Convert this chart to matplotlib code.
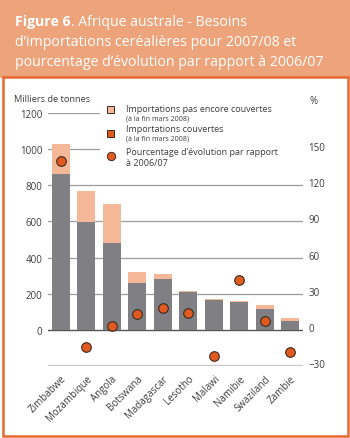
import matplotlib.pyplot as plt
import matplotlib.transforms as mtransforms
from matplotlib.patches import Rectangle
from matplotlib.lines import Line2D
import numpy as np

plt.rcParams['font.family'] = ['Open Sans', 'DejaVu Sans']

# donnees
pays = ["Zimbabwe", "Mozambique", "Angola", "Botswana", "Madagascar",
        "Lesotho", "Malawi", "Namibie", "Swaziland", "Zambie"]
total = [1030, 768, 694, 320, 307, 217, 172, 161, 135, 67]
couvertes = [860, 596, 478, 257, 283, 207, 165, 154, 117, 50]
evolution = [140, -14, 3, 13, 18, 14, -22, 41, 7, -18]

gauche_ticks = [0, 200, 400, 600, 800, 1000, 1200]
droite_ticks = [-30, 0, 30, 60, 90, 120, 150]

pas_couvertes = np.array(total) - np.array(couvertes)

gris = '#808084'
peche = '#f4b898'
orange = '#e15a1f'
texte = '#3c3c3c'

W, H = 350, 439
fig = plt.figure(figsize=(W / 100, H / 100), dpi=100)

# bandeau + cadre
fig.patches.append(Rectangle((0, 1 - 79 / H), 1, 79 / H, transform=fig.transFigure,
                             facecolor='#eda47b', edgecolor='none', zorder=0))
fig.patches.append(Rectangle((2.5 / W, 2.5 / H), (W - 5) / W, (H - 80) / H,
                             transform=fig.transFigure, facecolor='white',
                             edgecolor='#e8692f', linewidth=1.8, zorder=0.5))

t1 = fig.text(15 / W, 1 - 22 / H, "Figure 6", color='white', fontsize=10.2,
              fontweight='bold', va='center')
r = fig.canvas.get_renderer()
bb = t1.get_window_extent(renderer=r)
fig.text(bb.x1 / W, 1 - 22 / H, ". Afrique australe - Besoins",
         color='white', fontsize=10.2, va='center')
fig.text(15 / W, 1 - 42 / H, "d\u2019importations cer\u00e9ali\u00e8res pour 2007/08 et",
         color='white', fontsize=10.2, va='center')
fig.text(15 / W, 1 - 62 / H, "pourcentage d\u2019\u00e9volution par rapport \u00e0 2006/07",
         color='white', fontsize=10.2, va='center')

ax = fig.add_axes([48 / W, 1 - 367 / H, (303 - 48) / W, (367 - 114) / H])
ax.set_zorder(2)
ax.patch.set_visible(False)
x = np.arange(len(pays))

ax.bar(x, couvertes, width=0.72, color=gris, zorder=2)
ax.bar(x, pas_couvertes, width=0.72, bottom=couvertes, color=peche, zorder=2)

ax.set_xlim(-0.5, 9.5)
ax.set_ylim(-200, 1200)
ax.set_yticks(gauche_ticks)
for t in gauche_ticks[1:]:
    ax.axhline(t, color='#9c9c9c', lw=0.9, zorder=0.5)
ax.axhline(0, color='#555555', lw=1.0, zorder=1)
ax.axhline(-200, color='#c8c8c8', lw=1.6, zorder=0.5)
for s in ax.spines.values():
    s.set_visible(False)
ax.tick_params(axis='y', length=0, pad=4, labelsize=7, labelcolor=texte)
ax.tick_params(axis='x', length=0, pad=5, labelsize=7, labelcolor=texte)
ax.set_xticks(x)
ax.set_xticklabels(pays, rotation=45, ha='right', rotation_mode='anchor')

ax2 = ax.twinx()
ax2.set_zorder(3)
ax2.patch.set_visible(False)
ax2.set_ylim(-30, 180)
ax2.set_yticks(droite_ticks)
for s in ax2.spines.values():
    s.set_visible(False)
ax2.tick_params(axis='y', length=0, pad=4, labelsize=7, labelcolor=texte)
off = mtransforms.ScaledTranslation(0, 3 / 100, fig.dpi_scale_trans)
for lab in ax2.get_yticklabels():
    lab.set_transform(lab.get_transform() + off)
ax2.scatter(x, evolution, s=48, color=orange, edgecolor='#3a2a20', linewidth=0.8, zorder=5)

# zone blanche de la legende (cache les lignes de grille)
fig.patches.append(Rectangle((100 / W, 1 - 172 / H), (305 - 100) / W, 72 / H,
                             transform=fig.transFigure, facecolor='white',
                             edgecolor='none', zorder=4))

fig.text(14 / W, 1 - 100 / H, "Milliers de tonnes", fontsize=6.7, color=texte, va='center')
fig.text(310 / W, 1 - 101 / H, "%", fontsize=7, color=texte, va='center')

# legende
fig.patches.append(Rectangle((107 / W, 1 - 114 / H), 7 / W, 7 / H, transform=fig.transFigure,
                             facecolor=peche, edgecolor='#3a2a20', linewidth=0.7, zorder=5))
fig.patches.append(Rectangle((107 / W, 1 - 137.5 / H), 7 / W, 7 / H, transform=fig.transFigure,
                             facecolor=orange, edgecolor='#3a2a20', linewidth=0.7, zorder=5))
fig.lines.append(Line2D([110.5 / W], [1 - 157 / H], transform=fig.transFigure, marker='o',
                        markersize=6, color=orange, markeredgecolor='#3a2a20',
                        markeredgewidth=0.7, zorder=5))
kw = dict(color=texte, va='center', zorder=6)
fig.text(126 / W, 1 - 109 / H, "Importations pas encore couvertes", fontsize=6.5, **kw)
fig.text(126 / W, 1 - 118.5 / H, "(\u00e0 la fin mars 2008)", fontsize=5.0, **kw)
fig.text(126 / W, 1 - 130 / H, "Importations couvertes", fontsize=6.5, **kw)
fig.text(126 / W, 1 - 139.5 / H, "(\u00e0 la fin mars 2008)", fontsize=5.0, **kw)
fig.text(126 / W, 1 - 152.5 / H, "Pourcentage d\u2019\u00e9volution par rapport", fontsize=6.5, **kw)
fig.text(126 / W, 1 - 164 / H, "\u00e0 2006/07", fontsize=6.5, **kw)

fig.savefig("out.png", dpi=100)
